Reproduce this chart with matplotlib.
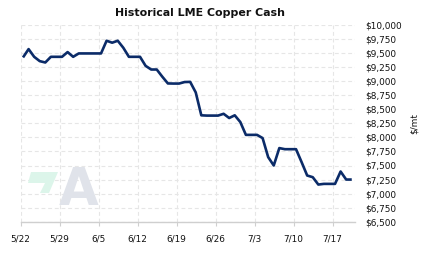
import matplotlib
matplotlib.use("Agg")
import matplotlib.pyplot as plt
from matplotlib.patches import Polygon
import pandas as pd

# ---- data ----
start_date = "2022-05-22"
prices = [9423, 9571, 9434, 9357, 9333, 9434, 9434, 9434, 9518, 9434,
          9494, 9494, 9494, 9494, 9494, 9720, 9685, 9720, 9595, 9434,
          9434, 9434, 9273, 9208, 9208, 9080, 8960, 8958, 8958, 8985,
          8988, 8800, 8393, 8388, 8388, 8388, 8420, 8345, 8393, 8273,
          8045, 8045, 8045, 7988, 7649, 7500, 7810, 7790, 7790, 7790,
          7560, 7322, 7292, 7161, 7173, 7173, 7173, 7393, 7250, 7250]
tick_dates = ["2022-05-22", "2022-05-29", "2022-06-05", "2022-06-12", "2022-06-19",
              "2022-06-26", "2022-07-03", "2022-07-10", "2022-07-17"]
tick_labels = ["5/22", "5/29", "6/5", "6/12", "6/19", "6/26", "7/3", "7/10", "7/17"]
y_ticks = list(range(6500, 10001, 250))
y_labels = ["${:,}".format(v) for v in y_ticks]
title = "Historical LME Copper Cash"
unit = "$/mt"

dates = pd.date_range(start_date, periods=len(prices), freq="D") + pd.Timedelta(hours=10)

W, H = 423, 257
fig = plt.figure(figsize=(W / 100, H / 100), dpi=100)
fig.patch.set_facecolor("white")

ax = fig.add_axes([20.7 / W, 1 - 221.7 / H, (355 - 20.7) / W, (221.7 - 25) / H])
ax.set_facecolor("none")

# watermark logo (decoration)
fig.patches.append(Polygon([(31 / W, 1 - 172 / H), (58 / W, 1 - 172 / H), (49 / W, 1 - 193 / H),
                            (40 / W, 1 - 193 / H), (45 / W, 1 - 183 / H), (28 / W, 1 - 183 / H)],
                           closed=True, transform=fig.transFigure, facecolor="#dcf5ea",
                           edgecolor="none", zorder=0))
fig.text(78.5 / W, 1 - 191 / H, "A", fontsize=37, fontweight="bold", color="#e0e3ea",
         ha="center", va="center", zorder=0)

ax.plot(dates, prices, color="#0b2b68", lw=1.9, solid_joinstyle="round",
        solid_capstyle="butt", zorder=3)

x0 = pd.Timestamp(start_date)
ax.set_xlim(x0, x0 + pd.Timedelta(days=60))
ax.set_ylim(6500, 10000)

ax.set_xticks(pd.to_datetime(tick_dates))
ax.set_xticklabels(tick_labels)
ax.set_yticks(y_ticks)
ax.set_yticklabels(y_labels)
ax.yaxis.tick_right()

ax.grid(True, color="#e6e6e6", linestyle=(0, (3.5, 2.5)), linewidth=0.8)
for s in ["left", "right", "top"]:
    ax.spines[s].set_visible(False)
ax.spines["bottom"].set_color("#cfcfcf")
ax.spines["bottom"].set_linewidth(1.0)

ax.tick_params(axis="x", length=3, color="#cfcfcf", labelsize=6.4, pad=6, labelcolor="#111111")
ax.tick_params(axis="y", length=0, labelsize=6.4, pad=7.5, labelcolor="#111111")

fig.text(200 / W, 1 - 13 / H, title, ha="center", va="center", fontsize=7.9,
         fontweight="bold", color="#111111")
fig.text(414 / W, 1 - 123 / H, unit, ha="center", va="center", rotation=90,
         fontsize=6.4, color="#111111")

fig.savefig("out.png", dpi=100)
